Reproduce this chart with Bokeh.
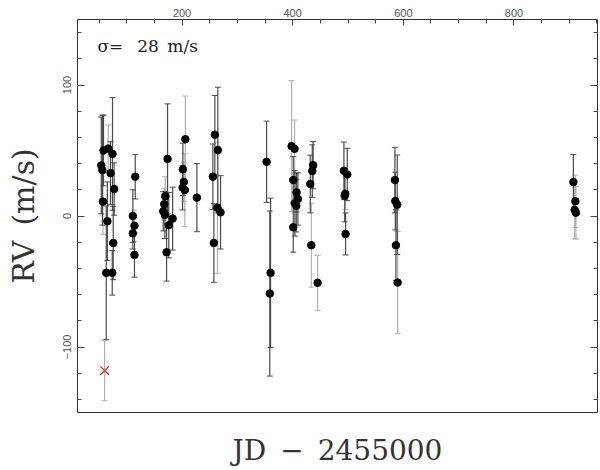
from bokeh.plotting import figure
from bokeh.models import (ColumnDataSource, Whisker, TeeHead, LinearAxis, FixedTicker,
                          Range1d, Label, CustomJSTickFormatter)
from bokeh.embed import file_html
from bokeh.resources import INLINE

# ---- data (JD - 2455000, RV in m/s, error in m/s, instrument) ----
jd = [54, 56, 57, 58, 65, 66.5, 70.7, 74.3, 77.3, 63, 73.8, 75.6,
      111, 111, 114, 114, 115.4,
      166, 167.8, 169, 169.6, 172, 173.8, 176, 183,
      201, 201.5, 203.3, 205, 206, 226.8,
      255.7, 257.5, 259.3, 264, 264.7, 269.6,
      352.8, 358.6, 360,
      398, 401, 401, 403.4, 404, 406.5, 407, 409.4,
      431.8, 433.6, 435.4, 437, 445,
      492.6, 494, 495, 495.6, 498.7,
      584.8, 585.5, 586.6, 589, 589.7,
      907.4, 909.8, 911, 912]
rv = [38.6, 35, 11, 50, -4, 51.5, 32.7, 47.4, 20.6, -43.4, -43.4, -20.6,
      0, -13.2, -7.4, -29.7, 30,
      3.6, 8.9, 0.8, 15, -27.7, 43.6, -7, -2,
      21.6, 35.6, 26, 19.8, 58.6, 14,
      30, -20.6, 62, 6.3, 50.3, 2.8,
      41.4, -59.2, -43.4,
      53.3, 27.4, -8.6, 51.3, 9.7, 7.8, 18, 13,
      24.4, -22.3, 34.3, 38.8, -51,
      34.5, 15.5, 17, -13.7, 31.7,
      27.4, 11.4, -22.3, 8.6, -50.8,
      25.9, 4.6, 11.2, 2.5]
err = [37, 42, 25, 27, 30, 18, 24, 43, 20, 51, 17, 28,
       20, 12, 12, 17, 17,
       15, 12, 18, 15, 22, 42, 25, 24,
       17, 20, 15, 28, 33, 26,
       25, 30, 30, 50, 48, 28,
       31, 63, 57,
       50, 18, 19, 22, 25, 20, 15, 20,
       22, 32, 20, 18, 21,
       22, 20, 12, 16, 20,
       25, 22, 27, 38, 39,
       21, 22, 20, 20]
inst = ["A", "A", "B", "A", "A", "B", "A", "A", "A", "A", "A", "A",
        "A", "A", "B", "A", "A",
        "A", "B", "A", "B", "A", "A", "A", "A",
        "A", "A", "B", "B", "B", "A",
        "A", "A", "A", "B", "A", "A",
        "A", "A", "A",
        "B", "A", "A", "B", "A", "A", "A", "A",
        "A", "B", "A", "A", "B",
        "A", "A", "B", "A", "A",
        "A", "A", "A", "A", "B",
        "A", "B", "B", "B"]

# rejected point
rej_jd = [60]
rej_rv = [-118]
rej_err = [23]

x_ticks = [200, 400, 600, 800]
y_ticks = [-100, 0, 100]
sigma_text = "\u03c3=\u2002 28\u2002m/s"

# ---- figure ----
p = figure(width=600, height=470, output_backend="svg", toolbar_location=None,
           x_range=Range1d(11, 951), y_range=Range1d(-150, 150),
           min_border_left=77, min_border_right=3, min_border_top=19, min_border_bottom=58)
p.background_fill_color = "white"
p.border_fill_color = "white"
p.outline_line_color = "#333333"
p.outline_line_width = 1
p.grid.visible = False

AXCOL = "#444444"

# bottom axis: only title
xb = p.xaxis[0]
xb.ticker = FixedTicker(ticks=[])
xb.axis_line_color = None
xb.major_tick_line_color = None
xb.minor_tick_line_color = None
xb.axis_label = "JD\u2002\u2212\u20022455000"
xb.axis_label_text_font = "DejaVu Serif"
xb.axis_label_text_font_style = "normal"
xb.axis_label_text_font_size = "28px"
xb.axis_label_text_color = "#333333"
xb.axis_label_standoff = 21

# left axis
yl = p.yaxis[0]
yl.ticker = FixedTicker(ticks=y_ticks, minor_ticks=list(range(-140, 141, 20)))
yl.axis_line_color = None
yl.major_tick_in = 7
yl.major_tick_out = 0
yl.minor_tick_in = 4
yl.minor_tick_out = 0
yl.major_tick_line_color = AXCOL
yl.minor_tick_line_color = AXCOL
yl.major_label_orientation = "vertical"
yl.major_label_text_font = "Liberation Sans"
yl.major_label_text_font_size = "11px"
yl.major_label_text_color = "#555555"
yl.major_label_standoff = 7
yl.axis_label = "RV\u2002(m/s)"
yl.axis_label_text_font = "DejaVu Serif"
yl.axis_label_text_font_style = "normal"
yl.axis_label_text_font_size = "30px"
yl.axis_label_text_color = "#333333"
yl.axis_label_standoff = 19

# top axis
xt = LinearAxis(ticker=FixedTicker(ticks=x_ticks, minor_ticks=list(range(0, 951, 50))))
xt.axis_line_color = None
xt.major_tick_in = 6
xt.major_tick_out = 0
xt.minor_tick_in = 4
xt.minor_tick_out = 0
xt.major_tick_line_color = AXCOL
xt.minor_tick_line_color = AXCOL
xt.major_label_text_font = "Liberation Sans"
xt.major_label_text_font_size = "11px"
xt.major_label_text_color = "#555555"
xt.major_label_standoff = 3
p.add_layout(xt, "above")

# right axis (ticks only)
yr = LinearAxis(ticker=FixedTicker(ticks=y_ticks, minor_ticks=list(range(-140, 141, 20))),
                formatter=CustomJSTickFormatter(code="return ''"))
yr.axis_line_color = None
yr.major_tick_in = 7
yr.major_tick_out = 0
yr.minor_tick_in = 4
yr.minor_tick_out = 0
yr.major_tick_line_color = AXCOL
yr.minor_tick_line_color = AXCOL
yr.major_label_standoff = 0
p.add_layout(yr, "right")

# ---- error bars ----
colors = {"A": "#4a4a4a", "B": "#b0b0b0"}
for key in ["B", "A"]:
    xs = [x for x, k in zip(jd, inst) if k == key]
    ups = [r + e for r, e, k in zip(rv, err, inst) if k == key]
    los = [r - e for r, e, k in zip(rv, err, inst) if k == key]
    src = ColumnDataSource(dict(x=xs, upper=ups, lower=los))
    c = colors[key]
    w = Whisker(base="x", upper="upper", lower="lower", source=src,
                line_color=c, line_width=1.2,
                upper_head=TeeHead(size=6, line_color=c, line_width=1),
                lower_head=TeeHead(size=6, line_color=c, line_width=1))
    p.add_layout(w)

rsrc = ColumnDataSource(dict(x=rej_jd, upper=[r + e for r, e in zip(rej_rv, rej_err)],
                             lower=[r - e for r, e in zip(rej_rv, rej_err)]))
p.add_layout(Whisker(base="x", upper="upper", lower="lower", source=rsrc,
                     line_color="#b0b0b0", line_width=1.2,
                     upper_head=TeeHead(size=6, line_color="#b0b0b0", line_width=1),
                     lower_head=TeeHead(size=6, line_color="#b0b0b0", line_width=1)))

# ---- points ----
p.scatter(jd, rv, size=7.5, color="black")
p.scatter(rej_jd, rej_rv, marker="x", size=12, line_color="#e8202a", line_width=1.3)

p.add_layout(Label(x=47, y=129.5, text=sigma_text, text_font="DejaVu Serif",
                   text_font_size="17px", text_color="#222222",
                   text_baseline="middle", text_align="left"))

open("out.html", "w").write(file_html(p, INLINE))
